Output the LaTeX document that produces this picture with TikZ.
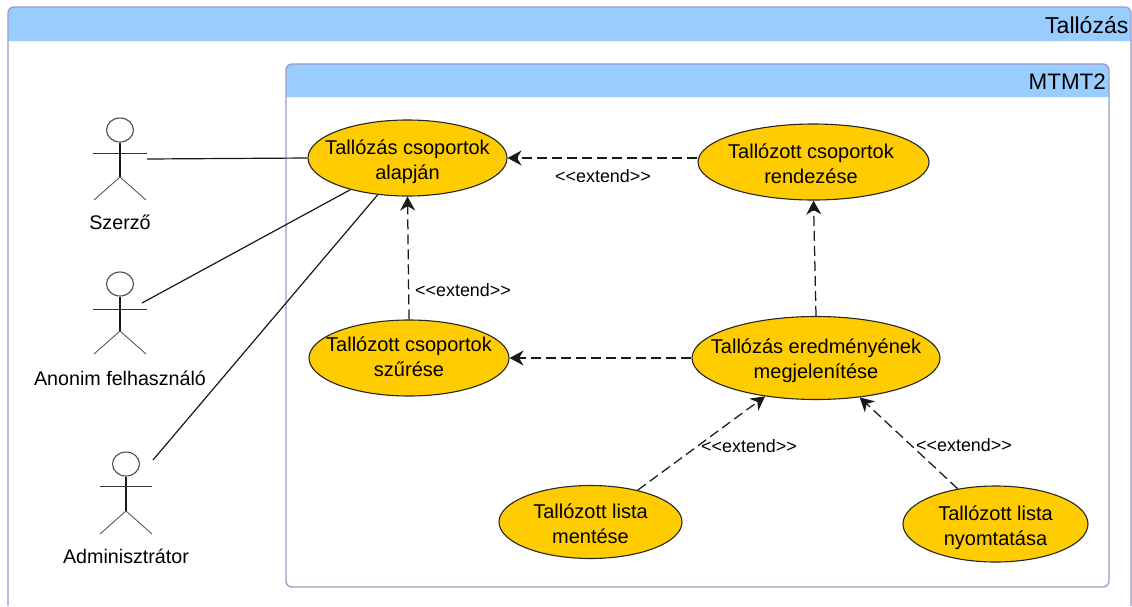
\documentclass[tikz,border=0pt]{standalone}
\usepackage{fontspec}
\setmainfont{Liberation Sans}
\usetikzlibrary{arrows.meta,shapes.geometric}
\definecolor{hdr}{HTML}{99CCFF}
\definecolor{frm}{HTML}{9C9CC6}
\definecolor{uc}{HTML}{FFCC00}
\tikzset{
  usecase/.style={ellipse,draw=black!85,line width=1.1pt,fill=uc,inner sep=-30pt,font=\fontsize{20}{25}\selectfont},
  bodyline/.style={line width=1.2pt,black!90},
  armline/.style={line width=1pt,black!80},
  legline/.style={line width=0.9pt,black!65},
  assoc/.style={line width=1.2pt,black!90},
  ext/.style={line width=1.25pt,black!90,dash pattern=on 10pt off 5pt,-{Stealth[length=14pt,width=15pt,inset=4.5pt]}},
  lbl/.style={inner sep=0pt,font=\fontsize{17.9}{20}\selectfont},
  actorlabel/.style={inner sep=0pt,font=\fontsize{19.7}{22}\selectfont},
  title/.style={inner sep=0pt,anchor=east},
  head/.style={ellipse,draw=black!70,line width=1.1pt,fill=white,inner sep=0pt,minimum width=27pt,minimum height=24pt}
}
\newcommand{\uctext}[4]{\kern#1pt\raisebox{-#2pt}[0pt][0pt]{\begin{tabular}{@{}c@{}}#3\\#4\end{tabular}}\kern-#1pt}
\newcommand{\stickman}[5]{% name, x, head y, arm half width, arm offset
  \node[head] (#1) at (#2,#3) {};
  \draw[bodyline] (#1.south) -- (#2,#3+47);
  \draw[legline] (#2,#3+47) -- ++(-26,23);
  \draw[legline] (#2,#3+47) -- ++(26,23);
  \draw[armline] (#2-#4,#3+#5) -- (#2+#4,#3+#5);
}
\begin{document}
\begin{tikzpicture}[x=1pt,y=-1pt]
\useasboundingbox (0,0) rectangle (1132,606);
\fill[white] (0,0) rectangle (1132,606);
% outer frame
\fill[hdr] (8,41) -- (8,13) arc[start angle=180,end angle=270,radius=6] -- (1125,7) arc[start angle=270,end angle=360,radius=6] -- (1131,41) -- cycle;
\draw[frm,line width=1.3pt] (8,606) -- (8,13) arc[start angle=180,end angle=270,radius=6] -- (1125,7) arc[start angle=270,end angle=360,radius=6] -- (1131,606);
\node[title,font=\fontsize{23}{26}\selectfont] (t1) at (1128.5,25) {Tallózás};
% inner frame
\fill[hdr] (286,97) -- (286,70) arc[start angle=180,end angle=270,radius=6] -- (1103,64) arc[start angle=270,end angle=360,radius=6] -- (1109,97) -- cycle;
\draw[frm,line width=1.3pt,rounded corners=6pt] (286,587) -- (286,64) -- (1109,64) -- (1109,587) -- cycle;
\node[title,font=\fontsize{22.4}{26}\selectfont] (t2) at (1106,82) {MTMT2};
% use cases
\node[usecase,minimum width=199pt,minimum height=76pt] (a) at (407.5,158) {\uctext{0}{9.5}{Tallózás csoportok}{alapján}};
\node[usecase,minimum width=231pt,minimum height=76pt] (b) at (813.5,162) {\uctext{-2.5}{9.5}{Tallózott csoportok}{rendezése}};
\node[usecase,minimum width=200pt,minimum height=76pt] (c) at (409,358) {\uctext{0}{6}{Tallózott csoportok}{szűrése}};
\node[usecase,minimum width=248pt,minimum height=83pt] (d) at (816,358) {\uctext{0}{8}{Tallózás eredményének}{megjelenítése}};
\node[usecase,minimum width=183pt,minimum height=73pt] (e) at (590.5,522) {\uctext{0}{9}{Tallózott lista}{mentése}};
\node[usecase,minimum width=185pt,minimum height=76pt] (f) at (995.5,524) {\uctext{0}{9.5}{Tallózott lista}{nyomtatása}};
% actors
\stickman{h1}{120}{130}{27}{23}
\stickman{h2}{120}{284}{27}{25}
\stickman{h3}{126}{464}{26}{22}
\node[actorlabel] (l1) at (120,222) {Szerző};
\node[actorlabel] (l2) at (120,378) {Anonim felhasználó};
\node[actorlabel] (l3) at (126,556) {Adminisztrátor};
\coordinate (s1) at (147,159);
\coordinate (s2) at (142,303);
\coordinate (s3) at (153,460);
\draw[assoc] (s1) -- (a.180);
\draw[assoc] (s2) -- (a.209);
\draw[assoc] (s3) -- (a.231);
% extends
\draw[ext] (b.west |- a.east) -- (a.east);
\draw[ext] (c.north) -- (a.south);
\draw[ext] (d.west |- c.east) -- (c.east);
\draw[ext] (d.north) -- (b.south);
\draw[ext] (e.34) -- (d.217);
\draw[ext] (f.137) -- (d.318);
% labels
\node[lbl] (x1) at (603,176) {<{}<extend>{}>};
\node[lbl] (x2) at (463,290) {<{}<extend>{}>};
\node[lbl] (x3) at (749,446) {<{}<extend>{}>};
\node[lbl] (x4) at (964,445) {<{}<extend>{}>};
\end{tikzpicture}
\end{document}
